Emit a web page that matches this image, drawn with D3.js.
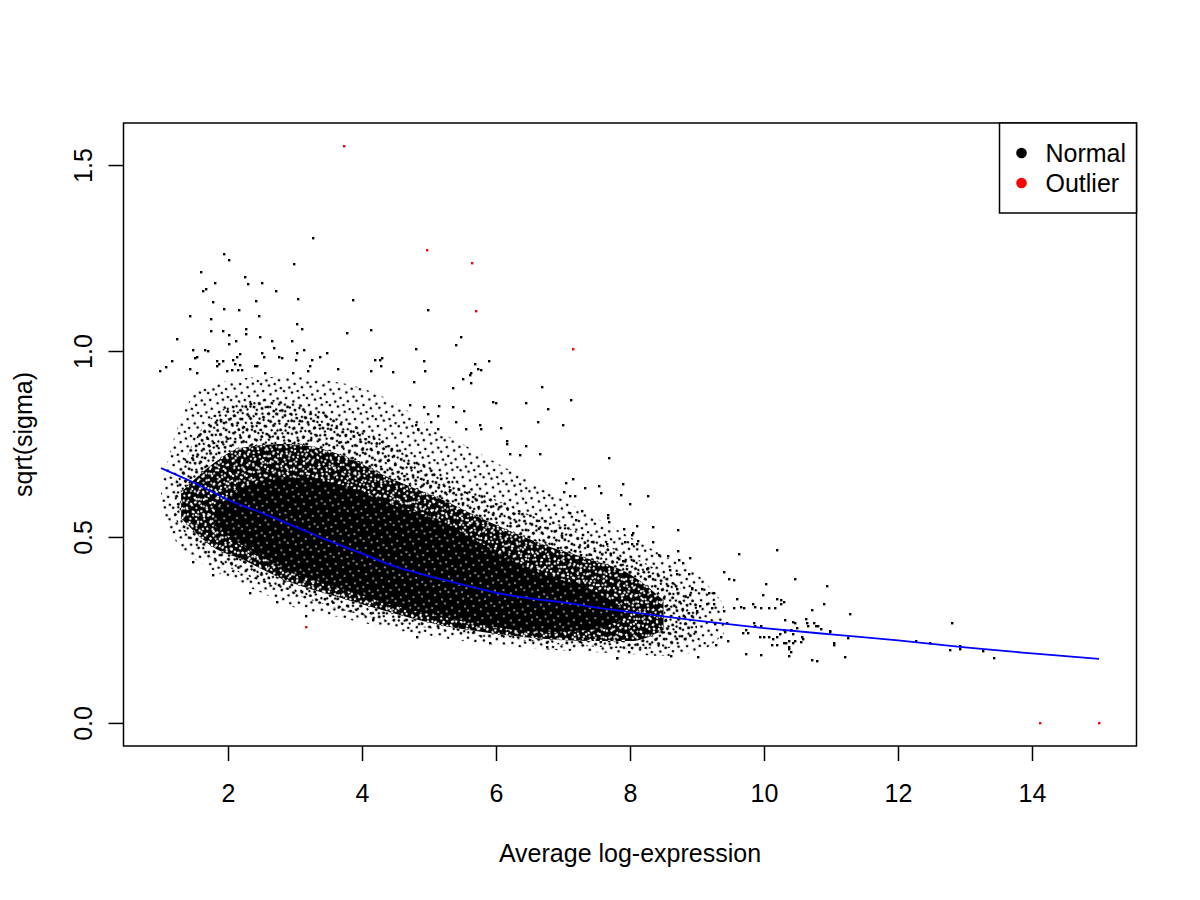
<!DOCTYPE html>
<html>
<head>
<meta charset="utf-8">
<script src="https://cdn.jsdelivr.net/npm/d3@7"></script>
<style>
body { margin: 0; background: #fff; }
</style>
</head>
<body>
<svg id="chart"></svg>
<script>
// values
var xTicks = [2, 4, 6, 8, 10, 12, 14];
var yTicks = [0, 0.5, 1.0, 1.5];
var yTickLabels = ["0.0", "0.5", "1.0", "1.5"];

var legendLabels = ["Normal", "Outlier"];
var legendColors = ["black", "red"];

// fitted trend (blue line)
var trendX = [1, 1.5, 2, 2.5, 3, 3.5, 4, 4.5, 5, 5.5, 6, 6.5, 7, 7.5, 8, 9, 10, 11, 12, 13, 14, 15];
var trendY = [0.685, 0.645, 0.60, 0.565, 0.528, 0.49, 0.455, 0.42, 0.395, 0.372, 0.35, 0.335, 0.324, 0.31, 0.298, 0.275, 0.255, 0.238, 0.222, 0.203, 0.187, 0.172];

// outliers (red)
var outlierX = [3.73, 4.97, 5.64, 5.70, 7.15, 3.16, 14.12, 15.0];
var outlierY = [1.551, 1.271, 1.237, 1.108, 1.005, 0.258, 0.0, 0.0];

// the dense cloud of normal points, as density bands (upper and lower edge at each x)
// band1 = sparse fringe, band4 = nearly solid core
var band1X = [1.0, 1.3, 1.6, 2.0, 2.5, 3.0, 3.5, 4.0, 4.5, 5.0, 5.5, 6.0, 6.5, 7.0, 7.5, 8.0, 8.5, 9.0, 9.4];
var band1Hi = [0.64, 0.82, 0.90, 0.92, 0.93, 0.93, 0.92, 0.90, 0.86, 0.80, 0.75, 0.70, 0.65, 0.60, 0.55, 0.50, 0.45, 0.40, 0.32];
var band1Lo = [0.56, 0.47, 0.43, 0.39, 0.35, 0.31, 0.29, 0.27, 0.25, 0.235, 0.22, 0.21, 0.20, 0.195, 0.19, 0.185, 0.18, 0.19, 0.24];

var band2X = [1.2, 1.5, 2.0, 2.5, 3.0, 3.5, 4.0, 4.5, 5.0, 5.5, 6.0, 6.5, 7.0, 7.5, 8.0, 8.5, 9.0];
var band2Hi = [0.64, 0.76, 0.85, 0.87, 0.86, 0.83, 0.79, 0.74, 0.69, 0.64, 0.60, 0.56, 0.53, 0.49, 0.45, 0.40, 0.32];
var band2Lo = [0.55, 0.48, 0.42, 0.38, 0.345, 0.315, 0.29, 0.27, 0.255, 0.24, 0.228, 0.22, 0.21, 0.205, 0.20, 0.20, 0.24];

var band3X = [1.3, 1.8, 2.2, 2.9, 3.7, 4.4, 5.2, 5.9, 6.7, 7.4, 8.0, 8.5];
var band3Hi = [0.62, 0.70, 0.74, 0.75, 0.72, 0.66, 0.60, 0.54, 0.48, 0.44, 0.40, 0.33];
var band3Lo = [0.55, 0.47, 0.44, 0.38, 0.335, 0.298, 0.262, 0.242, 0.226, 0.22, 0.22, 0.25];

var band4X = [1.8, 2.2, 2.9, 3.7, 4.4, 5.2, 5.9, 6.7, 7.4, 7.9];
var band4Hi = [0.57, 0.63, 0.66, 0.64, 0.59, 0.54, 0.47, 0.40, 0.36, 0.31];
var band4Lo = [0.53, 0.48, 0.41, 0.36, 0.32, 0.285, 0.26, 0.245, 0.25, 0.28];

// single normal points outside the dense bands [x, y]
var upperPoints = [
  [3.27,1.303],[1.945,1.26],[2.02,1.246],[2.99,1.235],[1.60,1.213],[1.81,1.182],[2.26,1.20],[2.30,1.18],
  [2.50,1.184],[2.71,1.161],[1.67,1.167],[1.62,1.16],[3.05,1.141],[3.87,1.136],[4.98,1.110],[2.42,1.134],
  [1.78,1.131],[1.94,1.112],[2.17,1.109],[1.44,1.095],[2.46,1.094],[1.74,1.085],[3.03,1.072],[3.11,1.058],
  [2.27,1.059],[1.74,1.055],[1.93,1.055],[2.01,1.044],[2.27,1.046],[3.77,1.048],[4.14,1.057],[1.24,1.031],
  [2.47,1.038],[2.66,1.028],[2.95,1.026],[2.01,1.02],[2.12,1.028],[5.48,1.038],[5.41,1.015],[4.81,1.005],
  [1.48,1.002],[1.65,1.004],[1.70,1.0],[2.18,0.991],[2.51,0.995],[2.69,1.007],[3.14,1.004],[3.47,0.995],
  [3.03,0.995],[1.51,0.982],[1.54,0.985],[1.17,0.972],[1.08,0.958],[0.99,0.946],[1.83,0.972],[1.92,0.973],
  [2.08,0.975],[2.13,0.985],[1.87,0.965],[1.43,0.952],[1.53,0.94],[1.83,0.96],[1.98,0.947],[2.06,0.95],
  [2.11,0.966],[2.15,0.95],[2.18,0.962],[2.21,0.95],[2.40,0.96],[2.44,0.96],[2.80,0.982],[2.76,0.985],
  [3.25,0.977],[3.37,0.985],[2.53,0.985],[3.02,0.975],[3.22,0.96],[3.64,0.952],[4.20,0.977],[4.27,0.977],
  [4.30,0.98],[4.29,0.96],[4.13,0.946],[4.47,0.944],[4.93,0.972],[4.94,0.946],[5.69,0.964],[5.73,0.952],
  [5.89,0.972],[5.63,0.94],[2.55,0.94],[2.97,0.94],[3.19,0.946]
];
var midPoints = [
  [5.78,0.95],[5.61,0.935],[5.63,0.913],[5.50,0.924],[5.36,0.90],[4.77,0.918],[6.68,0.902],[7.12,0.867],
  [4.71,0.856],[4.93,0.85],[5.15,0.851],[5.36,0.85],[5.52,0.84],[5.96,0.862],[6.00,0.86],[6.45,0.861],
  [6.78,0.843],[4.98,0.83],[5.14,0.826],[5.03,0.81],[5.13,0.79],[5.40,0.81],[4.81,0.80],[4.84,0.79],
  [6.63,0.808],[7.00,0.802],[5.76,0.80],[6.08,0.792],[5.78,0.79],[5.55,0.79],[6.17,0.757],[6.16,0.75],
  [6.45,0.745],[6.21,0.724],[6.36,0.72],[6.66,0.724],[7.69,0.711],
  [7.89,0.643],[7.57,0.617],[7.87,0.614],[8.27,0.609],[8.00,0.588],[7.67,0.56],[7.67,0.55],[7.68,0.54],
  [7.91,0.521],[8.10,0.529],[8.35,0.526],[8.71,0.519],[8.03,0.505],[7.93,0.487],[8.11,0.482],[8.35,0.487],
  [8.03,0.48],[7.65,0.48],[8.71,0.462],[8.57,0.45],[8.43,0.452],[8.89,0.444],[8.79,0.429],[8.73,0.437],
  [7.83,0.44],[7.90,0.435],[7.53,0.637],[7.15,0.655],[7.33,0.631],[7.04,0.644],[7.02,0.62],[7.28,0.57],
  [7.10,0.565],[7.20,0.545],[7.11,0.611],[7.18,0.61],[8.04,0.51],[8.12,0.49],[8.26,0.413],[8.59,0.41],
  [8.70,0.40],[8.88,0.40],[8.93,0.364]
];
var tailPoints = [
  [9.62,0.453],[10.2,0.464],[9.40,0.405],[9.48,0.386],[9.55,0.385],[10.47,0.386],[10.03,0.374],[10.94,0.367],
  [9.59,0.333],[9.98,0.345],[10.2,0.332],[10.26,0.33],[9.83,0.319],[9.65,0.313],[9.86,0.312],[9.95,0.31],
  [10.07,0.31],[10.16,0.31],[10.71,0.304],[10.9,0.319],[11.29,0.293],[12.81,0.269],[12.27,0.221],[12.48,0.216],
  [12.93,0.207],[12.92,0.20],[12.78,0.195],[13.27,0.193],[13.44,0.174],[11.25,0.229],[11.21,0.176],[10.99,0.246],
  [11.04,0.214],[11.05,0.21],[10.72,0.168],[10.79,0.166],[10.38,0.181],[9.95,0.182],[9.73,0.184],[10.44,0.272],
  [10.62,0.28],[10.64,0.27],[10.75,0.27],[10.8,0.26],[10.32,0.278],[10.4,0.25],[10.24,0.24],[10.55,0.218],
  [10.44,0.214],[10.37,0.205],[10.2,0.21],[10.3,0.216],[10.12,0.21],[10.14,0.225],[10.2,0.23],[10.08,0.23],
  [10.0,0.23],[9.94,0.23],[9.69,0.242],[9.76,0.243],[9.86,0.26],[9.85,0.27],[9.95,0.26],[9.73,0.25],
  [9.47,0.22],[9.36,0.23],[9.28,0.21],[9.02,0.176],[8.61,0.181],[7.99,0.19],[7.80,0.175],[9.45,0.27],
  [9.27,0.265],[9.55,0.31],[9.70,0.31],[9.40,0.30],[9.22,0.31],[9.26,0.32],[9.15,0.32],[9.18,0.35],
  [9.25,0.35],[9.05,0.315],[9.0,0.30],[8.92,0.36],[9.07,0.36],[8.7,0.36],[8.9,0.345],[10.3,0.326],
  [10.25,0.32],[10.85,0.252],[10.98,0.245],[10.78,0.26],[10.65,0.26],[10.46,0.27],[10.43,0.24],[10.32,0.245],
  [10.3,0.25],[10.56,0.23],[10.58,0.225],[10.47,0.22],[10.37,0.22],[10.33,0.215],[10.38,0.2],[10.41,0.19],
  [10.4,0.25],[10.5,0.255]
];
var lowerPoints = [
  [1.48,0.434],[2.33,0.35],[2.73,0.326],[3.16,0.288],[4.16,0.277],[4.82,0.232],[5.91,0.214],[6.76,0.205],
  [7.8,0.174],[1.78,0.398]
];

var dimensions = {
    width: 1200,
    height: 900,
    margin: { top: 123, bottom: 154, left: 123.5, right: 63.5 }
};

var font = "'Liberation Sans', Arial, Helvetica, sans-serif";

var svg = d3.select("#chart")
    .attr("width", dimensions.width)
    .attr("height", dimensions.height)
    .style("background-color", "white");

// R style 4% padding on both axes
var xPad = (d3.max(trendX) - d3.min(trendX)) * 0.04;
var yMax = d3.max(outlierY);
var yPad = yMax * 0.04;

var xScale = d3.scaleLinear()
    .domain([d3.min(trendX) - xPad, d3.max(trendX) + xPad])
    .range([dimensions.margin.left, dimensions.width - dimensions.margin.right]);

var yScale = d3.scaleLinear()
    .domain([0 - yPad, yMax + yPad])
    .range([dimensions.height - dimensions.margin.bottom, dimensions.margin.top]);

// speckle textures for the density bands: three small dot tiles at different
// sizes and angles, stacked so the dots don't line up in a grid
var tiles = [
    { size: 24, angle: 17, dots: [[2,3],[10,2],[18,5],[6,9],[14,10],[22,12],[2,15],[10,17],[18,18],[6,22],[15,23],[22,1]] },
    { size: 19, angle: -29, dots: [[3,2],[12,4],[7,8],[16,10],[1,12],[10,14],[5,17],[15,17],[18,3],[8,1]] },
    { size: 29, angle: 53, dots: [[2,4],[11,2],[20,6],[26,1],[6,11],[15,12],[24,14],[1,19],[10,20],[19,21],[27,24],[5,26],[14,27],[22,28],[9,7],[18,16]] }
];

var defs = svg.append("defs");

function addPattern(id, tile, color, r) {
    var p = defs.append("pattern")
        .attr("id", id)
        .attr("patternUnits", "userSpaceOnUse")
        .attr("width", tile.size)
        .attr("height", tile.size)
        .attr("patternTransform", `rotate(${tile.angle})`);
    p.selectAll("circle")
        .data(tile.dots)
        .enter()
        .append("circle")
        .attr("cx", d => d[0])
        .attr("cy", d => d[1])
        .attr("r", r)
        .attr("fill", color);
    return `url(#${id})`;
}

var sparseA = addPattern("sparseA", tiles[0], "black", 1.3);
var blackA = addPattern("blackA", tiles[0], "black", 1.3);
var blackB = addPattern("blackB", tiles[1], "black", 1.25);
var holeA = addPattern("holeA", tiles[0], "white", 1.2);
var holeB = addPattern("holeB", tiles[1], "white", 1.15);
var holeC = addPattern("holeC", tiles[2], "white", 1.0);
var pinA = addPattern("pinA", tiles[0], "white", 0.85);

var area = d3.area()
    .x(d => xScale(d.x))
    .y0(d => yScale(d.lo))
    .y1(d => yScale(d.hi))
    .curve(d3.curveMonotoneX);

function bandData(X, Hi, Lo) {
    return X.map((x, i) => ({ x: x, hi: Hi[i], lo: Lo[i] }));
}

var bands = [
    { fills: [sparseA], data: bandData(band1X, band1Hi, band1Lo) },
    { fills: [blackA, blackB], data: bandData(band2X, band2Hi, band2Lo) },
    { fills: ["black", holeA, holeB, holeC], data: bandData(band3X, band3Hi, band3Lo) },
    { fills: ["black", pinA], data: bandData(band4X, band4Hi, band4Lo) }
];

var bandLayer = svg.append("g");
bands.forEach(function(band) {
    bandLayer.append("g")
        .selectAll("path")
        .data(band.fills)
        .enter()
        .append("path")
        .attr("d", area(band.data))
        .attr("fill", d => d);
});

var normalPoints = upperPoints.concat(midPoints, tailPoints, lowerPoints);

svg.append("g")
    .selectAll("rect")
    .data(normalPoints)
    .enter()
    .append("rect")
    .attr("x", d => Math.round(xScale(d[0])) - 1)
    .attr("y", d => Math.round(yScale(d[1])) - 1)
    .attr("width", 2.4)
    .attr("height", 2.4)
    .attr("fill", "black");

// trend line
var line = d3.line()
    .x((d, i) => xScale(trendX[i]))
    .y(d => yScale(d))
    .curve(d3.curveMonotoneX);

svg.append("path")
    .attr("d", line(trendY))
    .attr("fill", "none")
    .attr("stroke", "#0000ff")
    .attr("stroke-width", 1.8);

svg.append("g")
    .selectAll("rect")
    .data(outlierX)
    .enter()
    .append("rect")
    .attr("x", d => Math.round(xScale(d)) - 1)
    .attr("y", (d, i) => Math.round(yScale(outlierY[i])) - 1)
    .attr("width", 2.4)
    .attr("height", 2.4)
    .attr("fill", "red");

// axes
var xAxis = svg.append("g")
    .attr("transform", `translate(0,${dimensions.height - dimensions.margin.bottom})`)
    .call(d3.axisBottom(xScale).tickValues(xTicks).tickSize(15).tickFormat(d3.format("d")));
xAxis.select(".domain").remove();
xAxis.selectAll("line").attr("stroke", "black").attr("stroke-width", 1.5);
xAxis.selectAll("text")
    .attr("y", 56)
    .attr("dy", null)
    .attr("fill", "black")
    .style("font-family", font)
    .style("font-size", "25px");

var yAxis = svg.append("g")
    .attr("transform", `translate(${dimensions.margin.left},0)`)
    .call(d3.axisLeft(yScale).tickValues(yTicks).tickSize(15).tickFormat((d, i) => yTickLabels[i]));
yAxis.select(".domain").remove();
yAxis.selectAll("line").attr("stroke", "black").attr("stroke-width", 1.5);
yAxis.selectAll("text")
    .attr("x", null)
    .attr("dy", null)
    .attr("fill", "black")
    .attr("transform", "translate(-32,0) rotate(-90)")
    .style("text-anchor", "middle")
    .style("font-family", font)
    .style("font-size", "25px");

// plot box
svg.append("rect")
    .attr("x", dimensions.margin.left)
    .attr("y", dimensions.margin.top)
    .attr("width", dimensions.width - dimensions.margin.left - dimensions.margin.right)
    .attr("height", dimensions.height - dimensions.margin.top - dimensions.margin.bottom)
    .attr("fill", "none")
    .attr("stroke", "black")
    .attr("stroke-width", 1.5);

// axis titles
svg.append("text")
    .attr("x", (xScale.range()[0] + xScale.range()[1]) / 2)
    .attr("y", 862)
    .style("text-anchor", "middle")
    .style("font-family", font)
    .style("font-size", "25px")
    .text("Average log-expression");

svg.append("text")
    .attr("transform", "translate(32," + ((yScale.range()[0] + yScale.range()[1]) / 2) + ")rotate(-90)")
    .style("text-anchor", "middle")
    .style("font-family", font)
    .style("font-size", "25px")
    .text("sqrt(sigma)");

// legend in the top right corner
var legendRight = dimensions.width - dimensions.margin.right;
var legend = svg.append("g");

legend.append("rect")
    .attr("x", legendRight - 137)
    .attr("y", dimensions.margin.top)
    .attr("width", 137)
    .attr("height", 90)
    .attr("fill", "white")
    .attr("stroke", "black")
    .attr("stroke-width", 1.5);

legend.selectAll("circle")
    .data(legendLabels)
    .enter()
    .append("circle")
    .attr("cx", legendRight - 115)
    .attr("cy", (d, i) => dimensions.margin.top + 30 + i * 30)
    .attr("r", 5.3)
    .attr("fill", (d, i) => legendColors[i]);

legend.selectAll("text")
    .data(legendLabels)
    .enter()
    .append("text")
    .attr("x", legendRight - 91)
    .attr("y", (d, i) => dimensions.margin.top + 39 + i * 30)
    .style("font-family", font)
    .style("font-size", "25px")
    .text(d => d);
</script>
</body>
</html>
